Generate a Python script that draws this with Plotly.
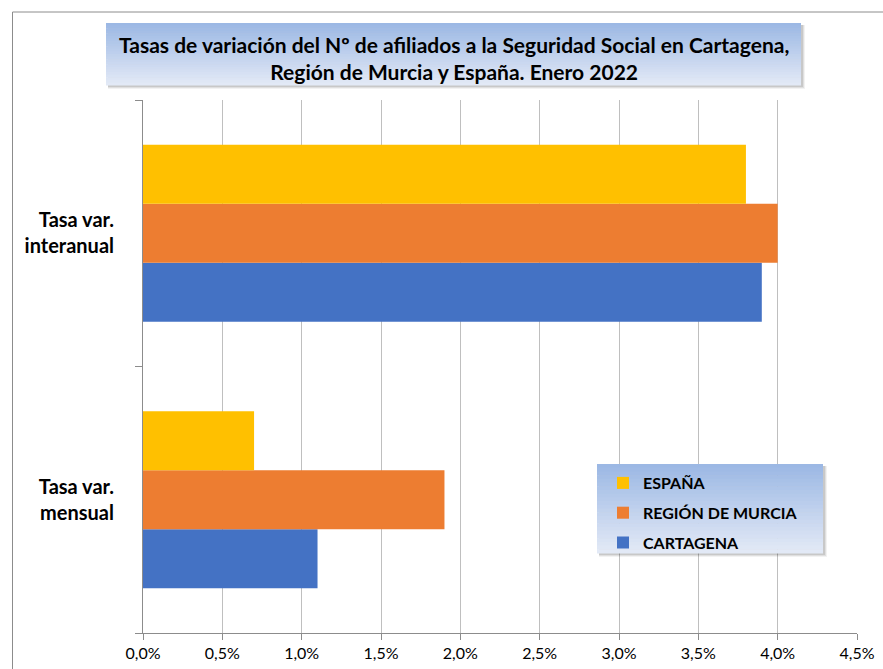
import plotly.graph_objects as go

categories = ["Tasa var.<br>mensual", "Tasa var.<br>interanual"]
series_names = ["CARTAGENA", "REGIÓN DE MURCIA", "ESPAÑA"]
cartagena = [1.1, 3.9]
murcia = [1.9, 4.0]
espana = [0.7, 3.8]
colors = ["#4472C4", "#ED7D31", "#FFC000"]
legend_ranks = [3, 2, 1]
x_ticks = [0, 0.5, 1.0, 1.5, 2.0, 2.5, 3.0, 3.5, 4.0, 4.5]
x_ticklabels = ["0,0%", "0,5%", "1,0%", "1,5%", "2,0%", "2,5%", "3,0%", "3,5%", "4,0%", "4,5%"]

W, H = 883, 669
L, R, T, B = 143, 26, 100, 36
PW, PH = W - L - R, H - T - B

def px(x):
    return (x - L) / PW

def py(y):
    return (H - B - y) / PH

fig = go.Figure()
for name, vals, col, rk in zip(series_names, [cartagena, murcia, espana], colors, legend_ranks):
    fig.add_trace(go.Bar(
        y=categories, x=vals, name=name, orientation="h",
        marker=dict(color=col, line=dict(width=0)),
        legendgroup=name, legendrank=rk,
    ))

shapes = []
# chart frame
shapes.append(dict(type="rect", xref="paper", yref="paper",
                   x0=px(12.5), x1=px(895), y0=py(12), y1=py(690),
                   line=dict(color="#8c8c8c", width=1), fillcolor="rgba(0,0,0,0)", layer="below"))

def gradient_box(x0, y0, x1, y1, top=(156, 184, 228), bot=(226, 233, 246), n=24, shadow=True):
    out = []
    if shadow:
        for i, a in enumerate([0.05, 0.08, 0.1]):
            d = 4 - i
            out.append(dict(type="rect", xref="paper", yref="paper",
                            x0=px(x0 + 2), x1=px(x1 + d), y0=py(y1 + d), y1=py(y0 + 2),
                            line=dict(width=0), fillcolor=f"rgba(0,0,0,{a})", layer="above"))
    h = (y1 - y0) / n
    for i in range(n):
        t = i / (n - 1)
        c = tuple(int(round(top[k] + (bot[k] - top[k]) * t)) for k in range(3))
        out.append(dict(type="rect", xref="paper", yref="paper",
                        x0=px(x0), x1=px(x1), y0=py(y0 + (i + 1) * h + 0.5), y1=py(y0 + i * h),
                        line=dict(width=0), fillcolor=f"rgb{c}", layer="above"))
    return out

shapes += gradient_box(106, 23, 801, 85)
shapes += gradient_box(597, 464, 823, 553)

fig.update_layout(
    width=W, height=H,
    margin=dict(l=L, r=R, t=T, b=B, pad=0),
    paper_bgcolor="white", plot_bgcolor="white",
    barmode="group", bargap=0.335, bargroupgap=0,
    font=dict(family="Lato", color="#000000"),
    shapes=shapes,
    showlegend=True,
    legend=dict(
        x=px(603), y=py(466), xanchor="left", yanchor="top",
        traceorder="grouped", tracegroupgap=6,
        bgcolor="rgba(0,0,0,0)", borderwidth=0,
        font=dict(family="Lato", size=16, color="#000000", weight="bold"),
        itemwidth=30,
    ),
    annotations=[dict(
        text="<b>Tasas de variación del Nº de afiliados a la Seguridad Social en Cartagena,<br>Región de Murcia y España. Enero 2022</b>",
        xref="paper", yref="paper", x=px(453.5), y=py(58), xanchor="center", yanchor="middle",
        showarrow=False, font=dict(family="Lato", size=21, color="#000000"), align="center",
    )],
    xaxis=dict(
        range=[0, 4.5], tickvals=x_ticks, ticktext=x_ticklabels,
        showgrid=True, gridcolor="#BFBFBF", gridwidth=1,
        showline=True, linecolor="#8c8c8c", linewidth=1,
        ticks="outside", ticklen=6, tickcolor="#8c8c8c",
        tickfont=dict(family="Lato", size=16, color="#000000"),
        zeroline=False, fixedrange=True, automargin=False,
    ),
    yaxis=dict(
        showline=True, linecolor="#8c8c8c", linewidth=1,
        ticks="outside", ticklen=7, tickcolor="#8c8c8c", tickson="boundaries",
        tickfont=dict(family="Lato", size=20, color="#000000", weight="bold"),
        ticklabelstandoff=24, showgrid=False, fixedrange=True, automargin=False,
    ),
)

fig.write_html("out.html", config={"displayModeBar": False},
               post_script="document.body.style.margin='0';document.body.style.overflow='hidden';")
